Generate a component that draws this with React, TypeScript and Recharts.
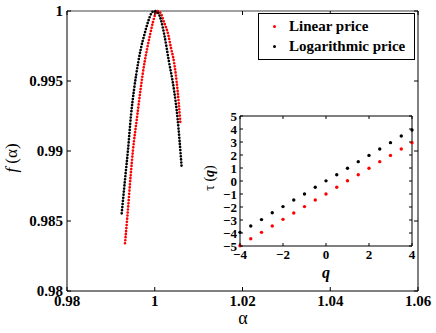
import React from "react";
import {
  LineChart, Line, XAxis, YAxis, ReferenceLine,
  ScatterChart, Scatter,
} from "recharts";

// f(alpha) spectrum
const alphaLinear = [
  0.99322, 0.99379, 0.99452, 0.99504, 0.99595, 0.99675, 0.99769, 0.9983,
  0.99892, 0.9996, 1.0001, 1.00058, 1.00131, 1.00211, 1.00309, 1.0037,
  1.00439, 1.00519, 1.00575, 1.00587,
];
const fLinear = [
  0.98341, 0.98543, 0.98829, 0.99007, 0.99236, 0.99436, 0.99636, 0.99736,
  0.99829, 0.99921, 0.99975, 1.0, 0.99986, 0.99921, 0.99829, 0.99736,
  0.99636, 0.99436, 0.99236, 0.99186,
];
const alphaLog = [
  0.99247, 0.99333, 0.9939, 0.99459, 0.99527, 0.99625, 0.99687, 0.99762,
  0.99846, 0.99915, 0.9999, 1.00074, 1.00142, 1.00218, 1.00325, 1.00439,
  1.00519, 1.00564, 1.00614,
];
const fLog = [
  0.98555, 0.98829, 0.99007, 0.99257, 0.99436, 0.99636, 0.99736, 0.99829,
  0.99921, 0.99979, 1.0, 0.99986, 0.99936, 0.99829, 0.99636, 0.99436,
  0.99236, 0.99079, 0.98879,
];
const mainXTicks = [0.98, 1, 1.02, 1.04, 1.06];
const mainYTicks = [0.98, 0.985, 0.99, 0.995, 1];
const seriesNames = ["Linear price", "Logarithmic price"];
const seriesColors = ["#ff0000", "#000000"];

// inset tau(q)
const qValues = [-4, -3.5, -3, -2.5, -2, -1.5, -1, -0.5, 0, 0.5, 1, 1.5, 2, 2.5, 3, 3.5, 4];
const tauLinear = [-4.98, -4.44, -3.95, -3.46, -2.95, -2.46, -1.97, -1.46, -1, -0.48, 0.02, 0.48, 0.98, 1.49, 1.97, 2.46, 2.95];
const tauLog = [-3.95, -3.46, -2.97, -2.44, -1.97, -1.46, -1, -0.48, 0.01, 0.48, 0.98, 1.49, 1.97, 2.46, 2.95, 3.46, 3.92];
const insetXTicks = [-4, -2, 0, 2, 4];
const insetYTicks = [-5, -4, -3, -2, -1, 0, 1, 2, 3, 4, 5];

const linearData = alphaLinear.map((a, i) => ({ a, f: fLinear[i] }));
const logData = alphaLog.map((a, i) => ({ a, f: fLog[i] }));
const tauLinearData = qValues.map((q, i) => ({ q, t: tauLinear[i] }));
const tauLogData = qValues.map((q, i) => ({ q, t: tauLog[i] }));

const serif = "'Liberation Serif', 'Times New Roman', serif";

// main plot box
const P = { l: 67, r: 418, t: 11, b: 291 };
// inset plot box (relative to inset svg at left 200, top 106)
const I = { l: 40, r: 212, t: 10, b: 140 };

const fmt = (v: number) => (v < 0 ? "\u2212" + Math.abs(v) : String(v));

const MainYTick = (props: any) => {
  const { x, y, payload } = props;
  return (
    <g>
      <text x={x} y={y} dy="0.36em" textAnchor="end" fontFamily={serif} fontWeight="bold" fontSize={15} fill="#000">
        {fmt(payload.value)}
      </text>
      <line x1={P.l} x2={P.l + 4} y1={y} y2={y} stroke="#000" />
      <line x1={P.r} x2={P.r - 4} y1={y} y2={y} stroke="#000" />
    </g>
  );
};

const MainXTick = (props: any) => {
  const { x, y, payload } = props;
  return (
    <g>
      <text x={x} y={y} dy="0.71em" textAnchor="middle" fontFamily={serif} fontWeight="bold" fontSize={15} fill="#000">
        {fmt(payload.value)}
      </text>
      <line x1={x} x2={x} y1={P.b} y2={P.b - 4} stroke="#000" />
      <line x1={x} x2={x} y1={P.t} y2={P.t + 4} stroke="#000" />
    </g>
  );
};

const InsetYTick = (props: any) => {
  const { x, y, payload } = props;
  return (
    <g>
      <text x={x} y={y} dy="0.36em" textAnchor="end" fontFamily={serif} fontWeight="bold" fontSize={13} fill="#000">
        {fmt(payload.value)}
      </text>
      <line x1={I.l} x2={I.l + 3} y1={y} y2={y} stroke="#000" />
      <line x1={I.r} x2={I.r - 3} y1={y} y2={y} stroke="#000" />
    </g>
  );
};

const InsetXTick = (props: any) => {
  const { x, y, payload } = props;
  return (
    <g>
      <text x={x} y={y} dy="0.71em" textAnchor="middle" fontFamily={serif} fontWeight="bold" fontSize={13} fill="#000">
        {fmt(payload.value)}
      </text>
      <line x1={x} x2={x} y1={I.b} y2={I.b - 3} stroke="#000" />
      <line x1={x} x2={x} y1={I.t} y2={I.t + 3} stroke="#000" />
    </g>
  );
};

const Dot = (props: any) => (
  <circle cx={props.cx} cy={props.cy} r={1.7} fill={props.fill} />
);

export default function App() {
  return (
    <div style={{ position: "absolute", left: 0, top: 0, width: 436, height: 333, background: "#fff" }}>
      <LineChart width={436} height={333} margin={{ top: 11, right: 18, bottom: 0, left: 0 }}>
        <XAxis
          type="number"
          dataKey="a"
          domain={[0.98, 1.06]}
          ticks={mainXTicks}
          interval={0}
          height={42}
          tickSize={0}
          tickMargin={4}
          tickLine={false}
          axisLine={{ stroke: "#000" }}
          tick={<MainXTick />}
          allowDuplicatedCategory={false}
        />
        <YAxis
          type="number"
          dataKey="f"
          domain={[0.98, 1]}
          ticks={mainYTicks}
          interval={0}
          width={67}
          tickSize={0}
          tickMargin={4}
          tickLine={false}
          axisLine={{ stroke: "#000" }}
          tick={<MainYTick />}
        />
        <ReferenceLine y={1} stroke="#808080" strokeWidth={1.5} />
        <ReferenceLine x={1.06} stroke="#000" />
        <Line
          data={linearData}
          dataKey="f"
          name={seriesNames[0]}
          type="monotone"
          stroke={seriesColors[0]}
          strokeWidth={2.7}
          strokeDasharray="0 3.1"
          strokeLinecap="round"
          dot={false}
          isAnimationActive={false}
        />
        <Line
          data={logData}
          dataKey="f"
          name={seriesNames[1]}
          type="monotone"
          stroke={seriesColors[1]}
          strokeWidth={2.7}
          strokeDasharray="0 3.1"
          strokeLinecap="round"
          dot={false}
          isAnimationActive={false}
        />
      </LineChart>

      {/* legend */}
      <div
        style={{
          position: "absolute", left: 258, top: 13, width: 157,
          border: "1px solid #000", background: "#fff", padding: "2px 0 3px 0",
          fontFamily: serif, fontWeight: "bold", fontSize: 15, lineHeight: "20px",
          boxSizing: "border-box",
        }}
      >
        {seriesNames.map((n, i) => (
          <div key={n} style={{ display: "flex", alignItems: "center" }}>
            <span
              style={{
                display: "inline-block", width: 3, height: 3, borderRadius: 2,
                background: seriesColors[i], marginLeft: 14, marginRight: 13,
              }}
            />
            <span>{n}</span>
          </div>
        ))}
      </div>

      <div
        style={{
          position: "absolute", left: 4, top: 150, width: 16, height: 16,
          display: "flex", alignItems: "center", justifyContent: "center",
        }}
      >
        <div style={{ transform: "rotate(-90deg)", whiteSpace: "nowrap", fontFamily: serif, fontSize: 17 }}>
          <i>f</i> (α)
        </div>
      </div>
      <div
        style={{
          position: "absolute", left: 223, top: 308, width: 40, textAlign: "center",
          fontFamily: serif, fontSize: 18, lineHeight: "20px",
        }}
      >
        α
      </div>

      {/* inset */}
      <div style={{ position: "absolute", left: 200 + I.l, top: 106 + I.t, width: I.r - I.l, height: I.b - I.t, background: "#fff" }} />
      <div style={{ position: "absolute", left: 200, top: 106 }}>
        <ScatterChart width={220} height={180} margin={{ top: 10, right: 8, bottom: 0, left: 0 }}>
          <XAxis
            type="number"
            dataKey="q"
            domain={[-4, 4]}
            ticks={insetXTicks}
            interval={0}
            height={40}
            tickSize={0}
            tickMargin={4}
            tickLine={false}
            axisLine={{ stroke: "#000" }}
            tick={<InsetXTick />}
          />
          <YAxis
            type="number"
            dataKey="t"
            domain={[-5, 5]}
            ticks={insetYTicks}
            interval={0}
            width={40}
            tickSize={0}
            tickMargin={3}
            tickLine={false}
            axisLine={{ stroke: "#000" }}
            tick={<InsetYTick />}
          />
          <ReferenceLine y={5} stroke="#000" />
          <ReferenceLine x={4} stroke="#000" />
          <Scatter data={tauLinearData} fill={seriesColors[0]} shape={<Dot />} isAnimationActive={false} />
          <Scatter data={tauLogData} fill={seriesColors[1]} shape={<Dot />} isAnimationActive={false} />
        </ScatterChart>
      </div>
      <div
        style={{
          position: "absolute", left: 202, top: 170, width: 16, height: 16,
          display: "flex", alignItems: "center", justifyContent: "center",
        }}
      >
        <div style={{ transform: "rotate(-90deg)", whiteSpace: "nowrap", fontFamily: serif, fontSize: 14 }}>
          τ (<b><i>q</i></b>)
        </div>
      </div>
      <div
        style={{
          position: "absolute", left: 306, top: 263, width: 40, textAlign: "center",
          fontFamily: serif, fontSize: 16, fontWeight: "bold", fontStyle: "italic", lineHeight: "20px",
        }}
      >
        q
      </div>
    </div>
  );
}
